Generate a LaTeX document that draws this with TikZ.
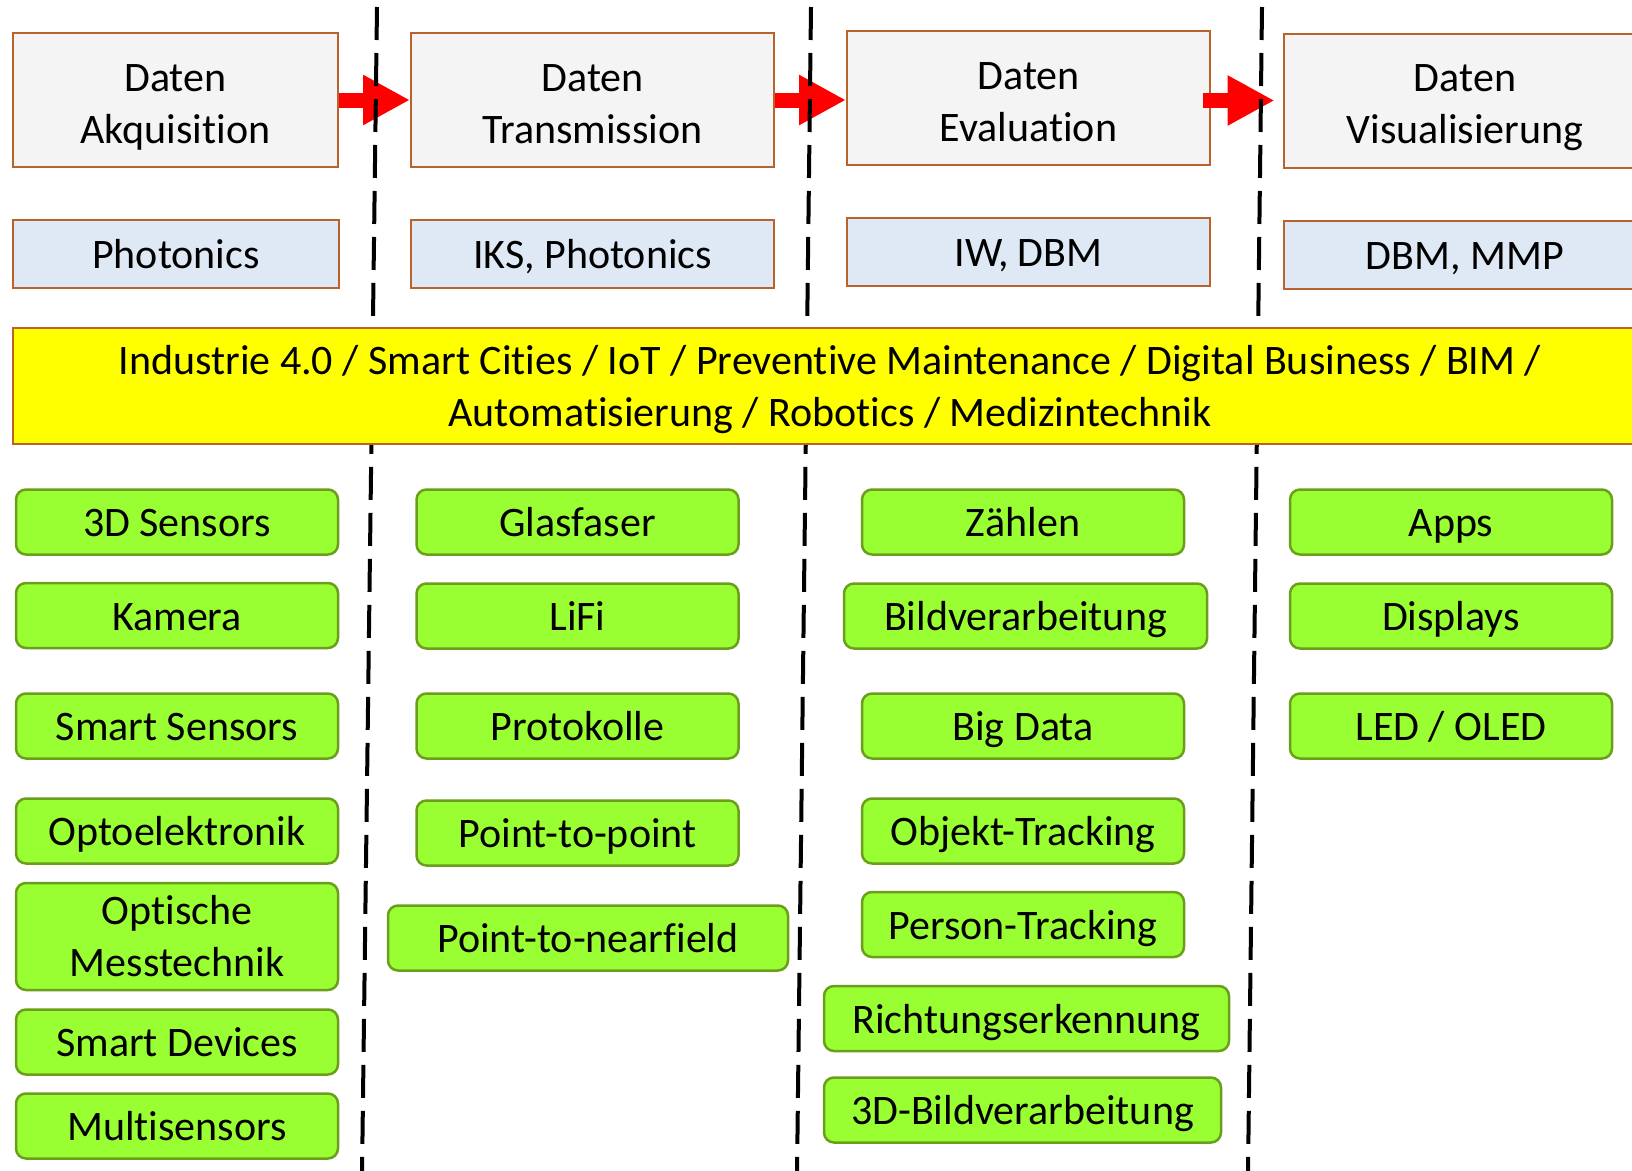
\documentclass[tikz,border=0pt]{standalone}
\usepackage{fontspec}
\setmainfont{Carlito}[Ligatures=NoCommon]
\usetikzlibrary{arrows.meta}
\definecolor{phaseFill}{HTML}{F4F4F4}
\definecolor{boxLine}{HTML}{BA622C}
\definecolor{teamFill}{HTML}{DEE9F5}
\definecolor{topicFill}{HTML}{FFFF00}
\definecolor{itemFill}{HTML}{99FF33}
\definecolor{itemLine}{HTML}{6B9E1A}
\definecolor{flowRed}{HTML}{FF0000}
\tikzset{
  every node/.append style = {font=\fontsize{42}{52}\selectfont, align=center,
                              inner sep=0pt, text=black,
                              text height=29.4pt, text depth=0pt},
  twoline/.style = {text height=80pt},
  % --- process phases ------------------------------------------------------
  phase/.style   = {draw=boxLine, fill=phaseFill, line width=2pt,
                    minimum width=363pt, minimum height=134pt, text height=86pt},
  team/.style    = {draw=boxLine, fill=teamFill, line width=2pt,
                    minimum width=363pt, minimum height=68pt},
  topic/.style   = {draw=boxLine, fill=topicFill, line width=2pt,
                    minimum width=1634pt, minimum height=116pt, twoline},
  % --- technologies ---------------------------------------------------------
  item/.style    = {draw=itemLine, fill=itemFill, line width=2.5pt,
                    rounded corners=10pt, minimum width=322pt, minimum height=65pt},
  % --- separators and flow --------------------------------------------------
  divider/.style = {draw=black, line width=4pt, dash pattern=on 33pt off 13pt},
  handoff/.style = {draw=flowRed, line width=15pt,
                    -{Triangle[length=47pt,width=47pt]}},
}
\begin{document}
\begin{tikzpicture}[x=1pt, y=-1pt]
\useasboundingbox (0,0) rectangle (1632,1170);

% ------------------------------- phases ------------------------------------
\node[phase, minimum width=325pt] (acq)   at (175.5,100) {Daten\\Akquisition};
\node[phase]                      (trans) at (592.5,100) {Daten\\Transmission};
\node[phase]                      (eval)  at (1028.5,98) {Daten\\Evaluation};
\node[phase]                      (vis)   at (1465,100.5) {Daten\\Visualisierung};

% -------------------------------- teams ------------------------------------
\node[team, minimum width=326pt] (tacq)   at (176,254)   {Photonics};
\node[team]                      (ttrans) at (592.5,254) {IKS, Photonics};
\node[team]                      (teval)  at (1028.5,252) {IW, DBM};
\node[team]                      (tvis)   at (1465,254.5) {DBM, MMP};

% -------------------------------- flow -------------------------------------
\draw[handoff] (acq.east) -- (trans.west);
\draw[handoff] (trans.east) -- (eval.west |- trans.east);
\draw[handoff] ([xshift=-8pt]eval.east |- vis.west) -- ([xshift=-8pt]vis.west);

% ------------------------------ dividers -----------------------------------
\foreach \xa/\xb in {377/362, 811/797, 1262/1248}{
  \draw[divider] (\xa,7) -- (\xb,1175);
}

% ---------------------------- application ----------------------------------
\node[topic] (apps) at (830,386)
  {Industrie 4.0 / Smart Cities / IoT / Preventive Maintenance / Digital Business / BIM /\\
   Automatisierung / Robotics / Medizintechnik};

% ------------------------ acquisition column -------------------------------
\node[item] (sens3d) at (177,522)    {3D Sensors};
\node[item] (kam)    at (177,615.5)  {Kamera};
\node[item] (smsens) at (177,726)    {Smart Sensors};
\node[item] (opto)   at (177,831)    {Optoelektronik};
\node[item, twoline, minimum height=107pt] (omess) at (177,936.5) {Optische\\Messtechnik};
\node[item] (smdev)  at (177,1042)   {Smart Devices};
\node[item] (multi)  at (177,1126)   {Multisensors};

% ------------------------ transmission column ------------------------------
\node[item] (glas)   at (577.5,522)  {Glasfaser};
\node[item] (lifi)   at (577.5,616)  {LiFi};
\node[item] (proto)  at (577.5,726)  {Protokolle};
\node[item] (ptp)    at (577.5,833)  {Point-to-point};
\node[item, minimum width=400pt] (ptn) at (588,938) {Point-to-nearfield};

% ------------------------- evaluation column -------------------------------
\node[item] (zaehl)  at (1023,522)   {Zählen};
\node[item, minimum width=363pt] (bildv) at (1025.5,616) {Bildverarbeitung};
\node[item] (bigd)   at (1023,726)   {Big Data};
\node[item] (objtr)  at (1023,831)   {Objekt-Tracking};
\node[item] (pertr)  at (1023,924.5) {Person-Tracking};
\node[item, minimum width=405pt] (richt) at (1026.5,1018.5) {Richtungserkennung};
\node[item, minimum width=397pt] (bild3d) at (1022.5,1110) {3D-Bildverarbeitung};

% ----------------------- visualisation column ------------------------------
\node[item] (appl)   at (1451,522)   {Apps};
\node[item] (disp)   at (1451,616)   {Displays};
\node[item] (led)    at (1451,726)   {LED / OLED};

\end{tikzpicture}
\end{document}
